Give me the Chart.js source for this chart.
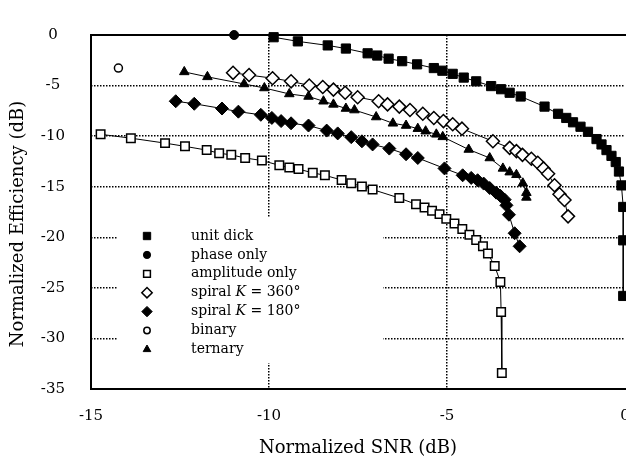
<!DOCTYPE html>
<html lang="en">
<head>
  <meta charset="UTF-8" />
  <title>Normalized Efficiency vs Normalized SNR</title>
  <script src="https://cdn.jsdelivr.net/npm/chart.js"></script>
  <style>
    html, body { margin: 0; padding: 0; background: #fff; overflow: hidden; }
    .chart-box { position: relative; width: 660px; height: 456px; }
  </style>
</head>
<body>

  <div class="chart-box"><canvas id="effChart"></canvas></div>

  <script>
    // values
    const seriesNames = ['unit dick', 'phase only', 'amplitude only', 'spiral K = 360°', 'spiral K = 180°', 'binary', 'ternary'];

    const unitDickX = [-9.87, -9.19, -8.35, -7.84, -7.23, -6.96, -6.64, -6.26, -5.84, -5.37, -5.13, -4.84, -4.53, -4.18, -3.76, -3.48, -3.24, -2.93, -2.26, -1.88, -1.65, -1.46, -1.25, -1.04, -0.80, -0.66, -0.52, -0.38, -0.26, -0.17, -0.10, -0.05, -0.05, -0.05];
    const unitDickY = [-0.22, -0.63, -1.03, -1.34, -1.81, -2.03, -2.34, -2.59, -2.90, -3.27, -3.53, -3.84, -4.21, -4.58, -5.05, -5.36, -5.71, -6.08, -7.08, -7.79, -8.20, -8.63, -9.07, -9.57, -10.29, -10.82, -11.38, -11.95, -12.56, -13.50, -14.87, -17.0, -20.3, -25.8];

    const phaseX = [-10.98];
    const phaseY = [0];

    const ampX = [-14.73, -13.88, -12.92, -12.36, -11.75, -11.40, -11.06, -10.67, -10.20, -9.71, -9.43, -9.17, -8.77, -8.43, -7.96, -7.69, -7.39, -7.09, -6.34, -5.87, -5.63, -5.42, -5.21, -5.02, -4.79, -4.57, -4.37, -4.18, -3.99, -3.85, -3.66, -3.50, -3.48, -3.46];
    const ampY = [-9.82, -10.20, -10.69, -11.01, -11.38, -11.69, -11.85, -12.16, -12.41, -12.88, -13.10, -13.26, -13.63, -13.87, -14.34, -14.66, -14.97, -15.28, -16.12, -16.74, -17.05, -17.37, -17.71, -18.18, -18.64, -19.18, -19.74, -20.27, -20.89, -21.61, -22.85, -24.42, -27.38, -33.42];

    const spiral360X = [-11.01, -10.56, -9.90, -9.38, -8.87, -8.49, -8.19, -7.86, -7.51, -6.92, -6.67, -6.34, -6.04, -5.68, -5.37, -5.10, -4.84, -4.58, -3.71, -3.24, -3.05, -2.88, -2.63, -2.45, -2.29, -2.16, -1.98, -1.84, -1.70, -1.60];
    const spiral360Y = [-3.74, -3.96, -4.27, -4.58, -4.99, -5.14, -5.40, -5.71, -6.15, -6.55, -6.86, -7.08, -7.42, -7.79, -8.20, -8.51, -8.82, -9.26, -10.51, -11.16, -11.48, -11.85, -12.23, -12.63, -13.19, -13.72, -14.85, -15.74, -16.31, -17.93];

    const spiral180X = [-12.62, -12.10, -11.32, -10.86, -10.23, -9.92, -9.66, -9.38, -8.89, -8.38, -8.07, -7.69, -7.39, -7.09, -6.62, -6.15, -5.82, -5.07, -4.56, -4.32, -4.14, -3.97, -3.80, -3.62, -3.50, -3.38, -3.33, -3.26, -3.10, -2.96];
    const spiral180Y = [-6.55, -6.80, -7.27, -7.58, -7.89, -8.20, -8.51, -8.73, -8.95, -9.45, -9.73, -10.10, -10.51, -10.82, -11.23, -11.79, -12.16, -13.19, -13.87, -14.13, -14.36, -14.69, -15.13, -15.59, -15.90, -16.28, -16.84, -17.77, -19.60, -20.89];

    const binaryX = [-14.23];
    const binaryY = [-3.27];

    const ternaryX = [-12.38, -11.73, -10.70, -10.13, -9.43, -8.89, -8.47, -8.19, -7.84, -7.60, -6.99, -6.52, -6.15, -5.82, -5.60, -5.30, -5.12, -4.39, -3.80, -3.43, -3.24, -3.05, -2.87, -2.77, -2.77];
    const ternaryY = [-3.65, -4.14, -4.84, -5.24, -5.83, -6.08, -6.55, -6.86, -7.27, -7.42, -8.11, -8.73, -8.95, -9.26, -9.51, -9.82, -10.07, -11.32, -12.16, -13.19, -13.56, -13.82, -14.66, -15.59, -16.06];

    const xTicks = [-15, -10, -5, 0];
    const yTicks = [0, -5, -10, -15, -20, -25, -30, -35];

    const FONT = "'DejaVu Serif', 'Liberation Serif', serif";

    function pts(xs, ys) {
      return xs.map((x, i) => ({ x: x, y: ys[i] }));
    }

    function series(i, xs, ys, style, radius, filled, line) {
      return {
        label: seriesNames[i],
        data: pts(xs, ys),
        pointStyle: style,
        pointRadius: radius,
        pointHoverRadius: radius,
        pointBackgroundColor: filled ? '#000' : '#fff',
        pointBorderColor: '#000',
        pointBorderWidth: filled ? 1 : 1.5,
        borderColor: '#000',
        borderWidth: 1,
        showLine: line,
        clip: false
      };
    }

    // frame, legend box and rotated y title
    const extrasPlugin = {
      id: 'extras',
      beforeDatasetsDraw(chart) {
        const { ctx, chartArea: a } = chart;
        ctx.save();
        ctx.strokeStyle = '#000';
        ctx.lineWidth = 2;
        ctx.beginPath();
        ctx.moveTo(a.right + 2, a.top);
        ctx.lineTo(a.left, a.top);
        ctx.lineTo(a.left, a.bottom);
        ctx.lineTo(a.right + 2, a.bottom);
        ctx.stroke();
        ctx.restore();
      },
      afterDatasetsDraw(chart) {
        const ctx = chart.ctx;
        ctx.save();
        ctx.fillStyle = '#fff';
        ctx.fillRect(118, 218, 265, 145);

        chart.data.datasets.forEach((ds, i) => {
          const y = 236 + i * 18.9;
          const opts = {
            pointStyle: ds.pointStyle,
            radius: ds.pointRadius * 0.8,
            borderWidth: ds.pointBorderWidth,
            rotation: 0
          };
          ctx.fillStyle = ds.pointBackgroundColor;
          ctx.strokeStyle = '#000';
          ctx.lineWidth = ds.pointBorderWidth;
          Chart.helpers.drawPoint(ctx, opts, 147, y);

          // label, with the K in italics
          ctx.fillStyle = '#000';
          ctx.textBaseline = 'middle';
          ctx.textAlign = 'left';
          const parts = ds.label.split(' K ');
          let x = 191;
          ctx.font = '14px ' + FONT;
          if (parts.length === 2) {
            ctx.fillText(parts[0] + ' ', x, y);
            x += ctx.measureText(parts[0] + ' ').width;
            ctx.font = 'italic 14px ' + FONT;
            ctx.fillText('K', x, y);
            x += ctx.measureText('K').width;
            ctx.font = '14px ' + FONT;
            ctx.fillText(' ' + parts[1], x, y);
          } else {
            ctx.fillText(ds.label, x, y);
          }
        });

        ctx.translate(18, 224);
        ctx.rotate(-Math.PI / 2);
        ctx.font = '18px ' + FONT;
        ctx.fillStyle = '#000';
        ctx.textAlign = 'center';
        ctx.textBaseline = 'middle';
        ctx.fillText('Normalized Efficiency (dB)', 0, 0);
        ctx.restore();
      }
    };

    const gridColor = (edges) => (c) => (c.tick && edges.includes(c.tick.value)) ? 'rgba(0,0,0,0)' : '#000';

    new Chart(document.getElementById('effChart'), {
      type: 'scatter',
      data: {
        datasets: [
          series(0, unitDickX, unitDickY, 'rect', 6.5, true, true),
          series(1, phaseX, phaseY, 'circle', 4.5, true, false),
          series(2, ampX, ampY, 'rect', 6, false, true),
          series(3, spiral360X, spiral360Y, 'rectRot', 6.5, false, true),
          series(4, spiral180X, spiral180Y, 'rectRot', 6.5, true, true),
          series(5, binaryX, binaryY, 'circle', 4, false, false),
          series(6, ternaryX, ternaryY, 'triangle', 5.5, true, true)
        ]
      },
      options: {
        responsive: true,
        maintainAspectRatio: false,
        animation: false,
        events: [],
        layout: { padding: { top: 15, right: 35, left: 0, bottom: 0 } },
        plugins: {
          legend: { display: false },
          tooltip: { enabled: false }
        },
        scales: {
          x: {
            type: 'linear',
            min: -15,
            max: 0,
            afterBuildTicks: (s) => { s.ticks = xTicks.map(v => ({ value: v })); },
            afterFit: (s) => { s.height = 67; },
            border: { display: false, dash: [1.5, 1.5] },
            grid: { color: gridColor([-15, 0]), lineWidth: 1.5, drawTicks: false },
            ticks: { color: '#000', font: { family: FONT, size: 15 }, padding: 18, maxRotation: 0 },
            title: {
              display: true,
              text: 'Normalized SNR (dB)',
              color: '#000',
              font: { family: FONT, size: 18, lineHeight: 0.9 },
              padding: { top: 0, bottom: 0 }
            }
          },
          y: {
            type: 'linear',
            min: -35,
            max: 0,
            afterBuildTicks: (s) => { s.ticks = yTicks.map(v => ({ value: v })); },
            afterFit: (s) => { s.width = 91; },
            border: { display: false, dash: [1.5, 1.5] },
            grid: { color: gridColor([0, -35]), lineWidth: 1.5, drawTicks: false },
            ticks: { color: '#000', font: { family: FONT, size: 15 }, padding: 26, crossAlign: 'center' }
          }
        }
      },
      plugins: [extrasPlugin]
    });
  </script>

</body>
</html>
